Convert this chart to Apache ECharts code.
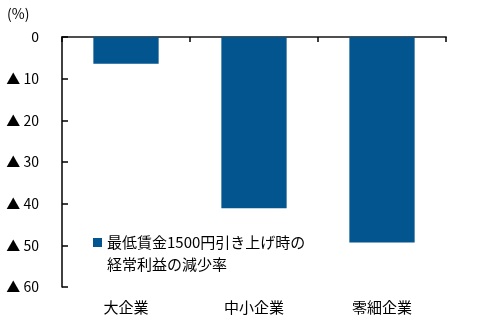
<!DOCTYPE html>
<html><head><meta charset="utf-8">
<script src="https://cdn.jsdelivr.net/npm/echarts@6/dist/echarts.min.js"></script>
<style>html,body{margin:0;padding:0;background:#fff}#c{width:481px;height:333px}</style>
</head><body><div id="c"></div>
<script>
const categories = ['大企業', '中小企業', '零細企業'];
const values = [6.4, 41.1, 49.3];
const seriesNameLines = ['最低賃金1500円引き上げ時の', '経常利益の減少率'];
const seriesName = seriesNameLines.join('');
const yTicks = [0, 10, 20, 30, 40, 50, 60];

const FONT = '"Noto Sans CJK JP", sans-serif';
const chart = echarts.init(document.getElementById('c'), null, {renderer: 'canvas'});
chart.setOption({
  animation: false,
  textStyle: {fontFamily: FONT},
  grid: {left: 62, right: 35, top: 37, bottom: 46, containLabel: false},
  graphic: [
    {type: 'text', left: 7, top: 7, style: {text: '(%)', fontSize: 14, fill: '#000', fontFamily: FONT}},
    {type: 'text', left: 107, top: 257, style: {text: seriesNameLines[1], fontSize: 15, fill: '#000', fontFamily: FONT}}
  ],
  legend: {
    left: 88, top: 230, orient: 'vertical', itemWidth: 9, itemHeight: 9, itemGap: 0,
    icon: 'rect',
    formatter: () => seriesNameLines[0],
    textStyle: {fontSize: 15, color: '#000', fontFamily: FONT},
    data: [seriesName]
  },
  xAxis: [{
    type: 'category', data: categories, position: 'bottom',
    axisLine: {lineStyle: {color: '#000', width: 1.5}},
    axisTick: {show: true, length: 5, inside: false, lineStyle: {color: '#000', width: 1.5}},
    axisLabel: {fontSize: 15, color: '#000', margin: 13, fontFamily: FONT}
  }, {
    type: 'category', data: categories, position: 'top',
    axisLine: {show: true, lineStyle: {color: '#555', width: 1.5}},
    axisTick: {show: false}, axisLabel: {show: false}, splitLine: {show: false}
  }],
  yAxis: {
    type: 'value', inverse: true, min: 0, max: 60, interval: 10,
    axisLine: {show: true, lineStyle: {color: '#000', width: 1.5}},
    axisTick: {show: true, inside: true, length: 6, lineStyle: {color: '#000', width: 1.5}},
    splitLine: {show: false},
    axisLabel: {fontSize: 14, color: '#000', margin: 23, fontFamily: FONT,
      formatter: v => yTicks.includes(v) ? (v === 0 ? '0' : '▲ ' + v) : ''}
  },
  series: [{
    name: seriesName, type: 'bar', data: values, barWidth: '51%',
    itemStyle: {color: '#02558E'}
  }]
});
</script></body></html>
